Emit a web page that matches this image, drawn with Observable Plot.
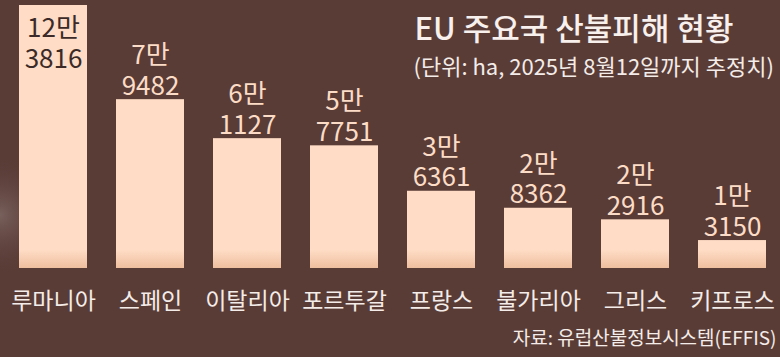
<!DOCTYPE html>
<html>
<head>
<meta charset="utf-8">
<script src="https://cdn.jsdelivr.net/npm/d3@7"></script>
<script src="https://cdn.jsdelivr.net/npm/@observablehq/plot@0.6"></script>
<style>
  html, body { margin: 0; padding: 0; background: #5a3c37; }
  #chart svg { display: block; }
</style>
</head>
<body>
<div id="chart"></div>
<script>
const countries = ["루마니아", "스페인", "이탈리아", "포르투갈", "프랑스", "불가리아", "그리스", "키프로스"];
const areas = [123816, 79482, 61127, 57751, 36361, 28362, 22916, 13150];
const valueLabels = ["12만\n3816", "7만\n9482", "6만\n1127", "5만\n7751", "3만\n6361", "2만\n8362", "2만\n2916", "1만\n3150"];
const titleText = "EU 주요국 산불피해 현황";
const subtitleText = "(단위: ha, 2025년 8월12일까지 추정치)";
const sourceText = "자료: 유럽산불정보시스템(EFFIS)";

const data = countries.map((c, i) => ({country: c, area: areas[i], label: valueLabels[i], inside: i === 0}));

const FONT = "'Noto Sans CJK KR', 'Noto Sans', sans-serif";

const defs = () => {
  const g = d3.create("svg:g");
  const d = g.append("defs");
  const lg = d.append("linearGradient").attr("id", "barGrad")
    .attr("gradientUnits", "userSpaceOnUse").attr("x1", 0).attr("x2", 0).attr("y1", 250).attr("y2", 268);
  lg.append("stop").attr("offset", "0").attr("stop-color", "#fedcc5");
  lg.append("stop").attr("offset", "1").attr("stop-color", "#efbf9f");
  const rg = d.append("radialGradient").attr("id", "bgGlow")
    .attr("gradientUnits", "userSpaceOnUse").attr("cx", 0).attr("cy", 215).attr("r", 60);
  rg.append("stop").attr("offset", "0").attr("stop-color", "#85706c").attr("stop-opacity", 0.7);
  rg.append("stop").attr("offset", "1").attr("stop-color", "#5a3c37").attr("stop-opacity", 0);
  g.append("rect").attr("x", 0).attr("y", 0).attr("width", 780).attr("height", 357).attr("fill", "#5a3c37");
  g.append("rect").attr("x", 0).attr("y", 0).attr("width", 780).attr("height", 357).attr("fill", "url(#bgGlow)");
  return g.node();
};

const chart = Plot.plot({
  width: 780,
  height: 357,
  marginTop: 5,
  marginBottom: 89,
  marginLeft: 16,
  marginRight: 11,
  style: {background: "#5a3c37", fontFamily: FONT},
  x: {domain: countries, paddingInner: 0.3, paddingOuter: 0, label: null},
  y: {domain: [0, d3.max(areas)], axis: null},
  marks: [
    defs,
    Plot.barY(data, {x: "country", y: "area", fill: "url(#barGrad)"}),
    Plot.text(data.filter(d => !d.inside), {
      x: "country", y: "area", text: "label", lineAnchor: "bottom", lineHeight: 1.17,
      dy: -5, fill: "#fcdcc6", fontSize: 26, fontFamily: FONT
    }),
    Plot.text(data.filter(d => d.inside), {
      x: "country", y: "area", text: "label", lineAnchor: "top", lineHeight: 1.17,
      dy: 10, fill: "#3b2a27", fontSize: 26, fontFamily: FONT
    }),
    Plot.axisX({tickSize: 0, tickPadding: 24, fontSize: 23, color: "#f4ece8", fontFamily: FONT, label: null}),
    Plot.text([titleText], {
      frameAnchor: "top-left", text: d => d, textAnchor: "start", lineAnchor: "bottom",
      dx: 398, dy: 34, fontSize: 31, fontWeight: 500, fill: "#f7f0ec", fontFamily: FONT
    }),
    Plot.text([subtitleText], {
      frameAnchor: "top-left", text: d => d, textAnchor: "start", lineAnchor: "bottom",
      dx: 397, dy: 69, fontSize: 22, fill: "#f4ece8", fontFamily: FONT
    }),
    Plot.text([sourceText], {
      frameAnchor: "bottom-right", text: d => d, textAnchor: "end", lineAnchor: "bottom",
      dx: 7, dy: 76, fontSize: 19, fill: "#f4ece8", fontFamily: FONT
    })
  ]
});

document.getElementById("chart").appendChild(chart);
</script>
</body>
</html>
